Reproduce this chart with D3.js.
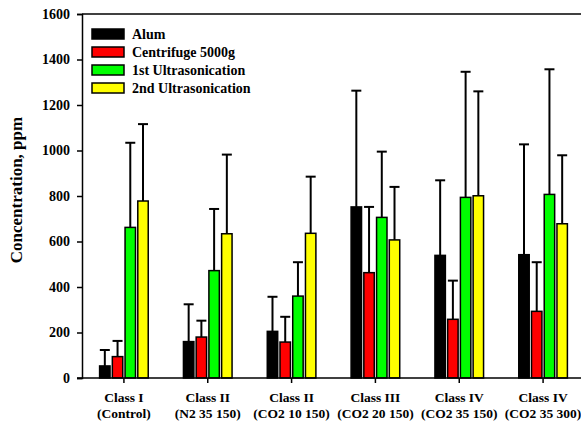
<!DOCTYPE html>
<html><head><meta charset="utf-8">
<script src="https://cdn.jsdelivr.net/npm/d3@7"></script>
<style>body{margin:0;background:#fff}svg{display:block}text{font-family:"Liberation Serif","Times New Roman",serif;font-weight:bold}</style>
</head><body><svg id="c" width="581" height="426"></svg>
<script>
const categories = [["Class I","(Control)"],["Class II","(N2 35 150)"],["Class II","(CO2 10 150)"],["Class III","(CO2 20 150)"],["Class IV","(CO2 35 150)"],["Class IV","(CO2 35 300)"]];
const seriesNames = ["Alum","Centrifuge 5000g","1st Ultrasonication","2nd Ultrasonication"];
const seriesColors = ["#000000","#ff0000","#00ff00","#ffff00"];
const alum = [53,160,205,752,539,542];
const alumErr = [123,324,357,1263,869,1027];
const centrifuge = [94,180,158,463,258,293];
const centrifugeErr = [163,252,269,752,428,509];
const ultra1 = [662,472,360,706,794,807];
const ultra1Err = [1034,743,509,995,1346,1357];
const ultra2 = [778,634,636,607,801,678];
const ultra2Err = [1116,982,885,840,1260,979];
const yTicks = [0,200,400,600,800,1000,1200,1400,1600];

const values = [alum, centrifuge, ultra1, ultra2];
const errs = [alumErr, centrifugeErr, ultra1Err, ultra2Err];

const svg = d3.select("#c");
const pL = 82, pR = 585, pT = 14, pB = 378;
const x = d3.scaleBand().domain(d3.range(categories.length)).range([pL, pR]).paddingInner(0.42).paddingOuter(0.21);
const xs = d3.scaleBand().domain(d3.range(4)).range([0, x.bandwidth()]).paddingInner(0.18);
const y = d3.scaleLinear().domain([0,1600]).range([pB, pT]);

svg.append("line").attr("x1", pL).attr("x2", 581).attr("y1", pT).attr("y2", pT).attr("stroke","#000").attr("stroke-width",1.5);

const bars = svg.append("g");
for (let s=0;s<4;s++){
  const g = bars.append("g");
  g.selectAll("line.err").data(values[s]).join("line")
    .attr("x1",(d,i)=>x(i)+xs(s)+xs.bandwidth()/2).attr("x2",(d,i)=>x(i)+xs(s)+xs.bandwidth()/2)
    .attr("y1",d=>y(d)).attr("y2",(d,i)=>y(errs[s][i])).attr("stroke","#000").attr("stroke-width",2);
  g.selectAll("line.cap").data(errs[s]).join("line")
    .attr("x1",(d,i)=>x(i)+xs(s)+xs.bandwidth()/2-5).attr("x2",(d,i)=>x(i)+xs(s)+xs.bandwidth()/2+5)
    .attr("y1",d=>y(d)).attr("y2",d=>y(d)).attr("stroke","#000").attr("stroke-width",2);
  g.selectAll("rect").data(values[s]).join("rect")
    .attr("x",(d,i)=>x(i)+xs(s)).attr("width",xs.bandwidth())
    .attr("y",d=>y(d)).attr("height",d=>pB-y(d))
    .attr("fill",seriesColors[s]).attr("stroke","#000").attr("stroke-width",1.5);
}

const ya = svg.append("g").attr("transform",`translate(${pL},0)`)
  .call(d3.axisLeft(y).tickValues(yTicks).tickSize(5).tickPadding(7).tickFormat(d3.format("d")));
ya.select(".domain").attr("stroke-width",1.5);
ya.selectAll(".tick line").attr("stroke-width",1.5);
ya.selectAll("text").attr("font-size",14).attr("fill","#000");

const xa = svg.append("g").attr("transform",`translate(0,${pB})`)
  .call(d3.axisBottom(x).tickSize(5).tickSizeOuter(0).tickFormat(""));
xa.select(".domain").attr("d",`M${pL-5},0H581`).attr("stroke-width",1.5);
xa.selectAll(".tick line").attr("stroke-width",1.5);
xa.selectAll(".tick").each(function(d){
  const t = d3.select(this).append("text").attr("fill","#000").attr("font-size",13.5).attr("text-anchor","middle");
  t.append("tspan").attr("x",0).attr("y",24).text(categories[d][0]);
  t.append("tspan").attr("x",0).attr("y",40).text(categories[d][1]);
});

svg.append("text").attr("transform","translate(22,190) rotate(-90)").attr("text-anchor","middle")
  .attr("font-size",17).attr("fill","#000").text("Concentration, ppm");

const lg = svg.append("g");
seriesNames.forEach((n,i)=>{
  lg.append("rect").attr("x",92).attr("y",29+i*18).attr("width",32).attr("height",10)
    .attr("fill",seriesColors[i]).attr("stroke","#000").attr("stroke-width",1.5);
  lg.append("text").attr("x",132).attr("y",39+i*18).attr("font-size",14).attr("fill","#000").text(n);
});
</script></body></html>
